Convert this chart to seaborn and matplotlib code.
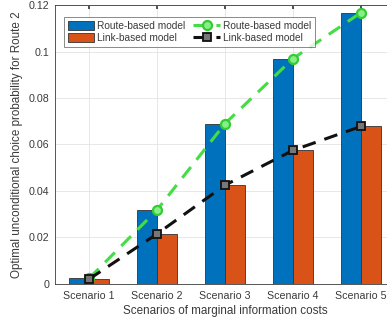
import matplotlib
matplotlib.use("Agg")
import matplotlib.pyplot as plt
import seaborn as sns
import pandas as pd
from matplotlib.patches import Patch

scenarios = ["Scenario 1", "Scenario 2", "Scenario 3", "Scenario 4", "Scenario 5"]
route_vals = [0.0023, 0.0318, 0.0690, 0.0970, 0.1168]
link_vals = [0.0020, 0.0215, 0.0425, 0.0575, 0.0678]
yticks = [0, 0.02, 0.04, 0.06, 0.08, 0.1, 0.12]
ytick_labels = ["0", "0.02", "0.04", "0.06", "0.08", "0.1", "0.12"]

sns.set_theme(style="whitegrid")
plt.rcParams['font.family'] = ['Liberation Sans', 'DejaVu Sans']

df = pd.DataFrame({
    "Scenario": scenarios * 2,
    "Probability": route_vals + link_vals,
    "Model": ["Route-based model"] * 5 + ["Link-based model"] * 5,
})

fig = plt.figure(figsize=(3.87, 3.2), dpi=100)
ax = fig.add_axes([0.142, 0.113, 0.879, 0.871])

sns.barplot(data=df, x="Scenario", y="Probability", hue="Model",
            palette=["#0072BD", "#D95319"], width=0.58, ax=ax,
            edgecolor="#333333", linewidth=0.6, saturation=1, legend=False)

ax.plot(scenarios, route_vals, linestyle=(0, (4.5, 3)), color="#44DD44", lw=2.2,
        marker="o", markersize=6.5, markerfacecolor="#88EE88", markeredgecolor="#33CC33",
        markeredgewidth=1.6, label="Route-based model")
ax.plot(scenarios, link_vals, linestyle=(0, (4.5, 3)), color="#111111", lw=2.2,
        marker="s", markersize=5.5, markerfacecolor="#777777", markeredgecolor="#111111",
        markeredgewidth=1.3, label="Link-based model")

ax.set_xlim(-0.5, 4.5)
ax.set_ylim(0, 0.12)
ax.set_yticks(yticks)
ax.set_yticklabels(ytick_labels)
ax.set_xlabel("Scenarios of marginal information costs", fontsize=8.4, color="#3a3a3a", labelpad=3)
ax.set_ylabel("Optimal unconditional choice probability for Route 2", fontsize=8.4, color="#3a3a3a", labelpad=4)
ax.tick_params(axis="both", labelsize=7.7, colors="#3a3a3a", direction="in", length=3,
               top=True, right=True, pad=5)
ax.tick_params(axis="y", pad=4)
ax.grid(True, color="#e3e3e3", lw=0.6)
for s in ax.spines.values():
    s.set_color("#3a3a3a")
    s.set_linewidth(0.6)

handles = [Patch(facecolor="#0072BD", edgecolor="#333333", lw=0.6),
           Patch(facecolor="#D95319", edgecolor="#333333", lw=0.6)]
line_handles, _ = ax.get_legend_handles_labels()
leg = ax.legend(handles + line_handles[:2],
                ["Route-based model", "Link-based model", "Route-based model", "Link-based model"],
                ncol=2, loc="upper left", bbox_to_anchor=(0.012, 0.975), fontsize=7.3,
                frameon=True, fancybox=False, edgecolor="#555555", handlelength=2.6,
                handleheight=1.0, handletextpad=0.3, columnspacing=0.8, borderpad=0.35,
                labelspacing=0.25)
leg.get_frame().set_linewidth(0.6)
for t in leg.get_texts():
    t.set_color("#3a3a3a")

fig.savefig("out.png", dpi=100)
